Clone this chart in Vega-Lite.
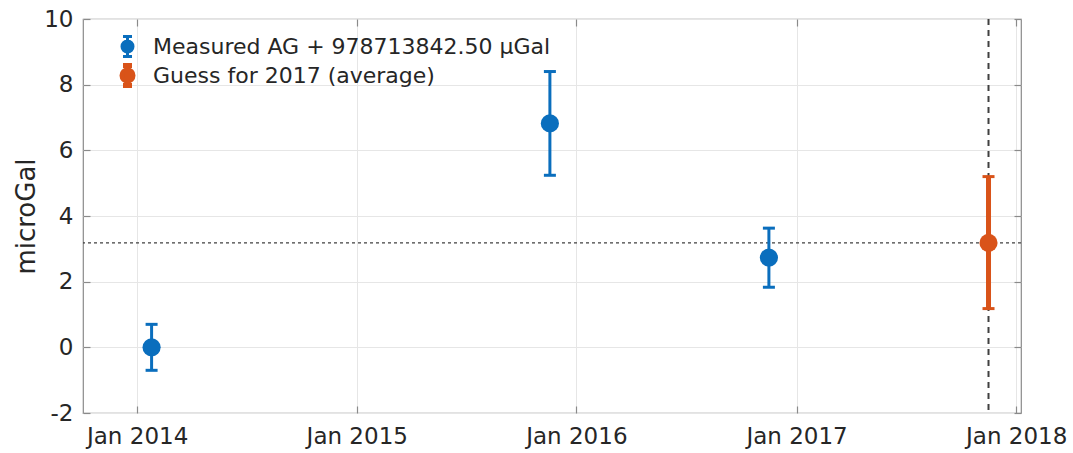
{
  "$schema": "https://vega.github.io/schema/vega-lite/v6.json",
  "width": 938,
  "height": 394,
  "autosize": {"type": "none"},
  "padding": {"left": 83, "top": 19, "right": 52, "bottom": 40},
  "background": "white",
  "datasets": {
    "pts": [
      {"date": "2014-01-25", "value": 0, "lo": -0.7, "hi": 0.7, "series": "Measured AG + 978713842.50 μGal"},
      {"date": "2015-11-18", "value": 6.82, "lo": 5.24, "hi": 8.4, "series": "Measured AG + 978713842.50 μGal"},
      {"date": "2016-11-16", "value": 2.73, "lo": 1.83, "hi": 3.63, "series": "Measured AG + 978713842.50 μGal"},
      {"date": "2017-11-16", "value": 3.18, "lo": 1.18, "hi": 5.2, "series": "Guess for 2017 (average)"}
    ],
    "vline": [{"d": "2017-11-16"}],
    "hline": [{"avg": 3.18}]
  },
  "resolve": {"axis": {"x": "independent", "y": "independent"}},
  "layer": [
    {
      "data": {"name": "hline"},
      "mark": {"type": "rule", "color": "#404040", "strokeWidth": 1.2, "strokeDash": [3, 3]},
      "encoding": {
        "y": {"field": "avg", "type": "quantitative", "axis": null}
      }
    },
    {
      "data": {"name": "vline"},
      "mark": {"type": "rule", "color": "#404040", "strokeWidth": 2, "strokeDash": [6, 5]},
      "encoding": {
        "x": {"field": "d", "type": "temporal", "axis": null,
          "scale": {"type": "utc", "domain": [{"year": 2013, "month": 10, "date": 3, "utc": true}, {"year": 2018, "month": 1, "date": 9, "utc": true}]}}
      }
    },
    {
      "data": {"name": "pts"},
      "mark": {"type": "rule", "opacity": 1},
      "encoding": {
        "x": {"field": "date", "type": "temporal",
          "scale": {"type": "utc", "domain": [{"year": 2013, "month": 10, "date": 3, "utc": true}, {"year": 2018, "month": 1, "date": 9, "utc": true}]},
          "axis": {"orient": "bottom", "title": null, "labelExpr": "utcFormat(datum.value, '%b %Y')",
            "values": [{"year": 2014, "month": 1, "date": 1, "utc": true}, {"year": 2015, "month": 1, "date": 1, "utc": true}, {"year": 2016, "month": 1, "date": 1, "utc": true}, {"year": 2017, "month": 1, "date": 1, "utc": true}, {"year": 2018, "month": 1, "date": 1, "utc": true}],
            "grid": true, "tickSize": -7, "labelPadding": 19, "labelFlush": false, "labelOverlap": false}},
        "y": {"field": "lo", "type": "quantitative",
          "scale": {"domain": [-2, 10], "nice": false, "zero": false},
          "axis": {"orient": "left", "title": "microGal", "values": [-2, 0, 2, 4, 6, 8, 10], "labelExpr": "datum.value < 0 ? '-' + abs(datum.value) : '' + datum.value", "grid": true, "tickSize": -7, "labelPadding": 17, "titlePadding": 4}},
        "y2": {"field": "hi"},
        "color": {"field": "series", "type": "nominal",
          "scale": {"domain": ["Measured AG + 978713842.50 μGal", "Guess for 2017 (average)"], "range": ["#0A6EBD", "#D95319"]}},
        "strokeWidth": {"field": "series", "type": "nominal", "legend": null,
          "scale": {"domain": ["Measured AG + 978713842.50 μGal", "Guess for 2017 (average)"], "range": [3, 5]}}
      }
    },
    {
      "data": {"name": "pts"},
      "mark": {"type": "tick", "orient": "horizontal", "size": 12, "thickness": 3, "opacity": 1},
      "encoding": {
        "x": {"field": "date", "type": "temporal", "axis": null},
        "y": {"field": "hi", "type": "quantitative", "axis": null},
        "color": {"field": "series", "type": "nominal"}
      }
    },
    {
      "data": {"name": "pts"},
      "mark": {"type": "tick", "orient": "horizontal", "size": 12, "thickness": 3, "opacity": 1},
      "encoding": {
        "x": {"field": "date", "type": "temporal", "axis": null},
        "y": {"field": "lo", "type": "quantitative", "axis": null},
        "color": {"field": "series", "type": "nominal"}
      }
    },
    {
      "data": {"name": "pts"},
      "mark": {"type": "point", "shape": "circle", "filled": true, "size": 330, "opacity": 1},
      "encoding": {
        "x": {"field": "date", "type": "temporal",
          "axis": {"orient": "top", "title": null, "labels": false, "grid": false, "tickSize": -7,
            "values": [{"year": 2014, "month": 1, "date": 1, "utc": true}, {"year": 2015, "month": 1, "date": 1, "utc": true}, {"year": 2016, "month": 1, "date": 1, "utc": true}, {"year": 2017, "month": 1, "date": 1, "utc": true}, {"year": 2018, "month": 1, "date": 1, "utc": true}]}},
        "y": {"field": "value", "type": "quantitative",
          "axis": {"orient": "right", "title": null, "labels": false, "grid": false, "tickSize": -7, "values": [-2, 0, 2, 4, 6, 8, 10]}},
        "color": {"field": "series", "type": "nominal",
          "legend": {"orient": "none", "legendX": 32, "legendY": 16, "title": null,
            "symbolType": "M0,-1L0,1M-0.45,-1L0.45,-1M-0.45,1L0.45,1M-0.55,0A0.55,0.55,0,1,0,0.55,0A0.55,0.55,0,1,0,-0.55,0Z",
            "symbolSize": 400, "symbolStrokeWidth": 3, "symbolOpacity": 1,
            "labelFontSize": 22, "labelFont": "DejaVu Sans", "labelColor": "#262626", "labelOffset": 13, "rowPadding": -10, "labelLimit": 600,
            "encode": {"symbols": {"update": {"stroke": {"scale": "color", "field": "value"}, "strokeWidth": {"value": 3}, "strokeCap": {"value": "butt"}}}}}}
      }
    }
  ],
  "config": {
    "view": {"stroke": "#8a8a8a", "strokeWidth": 1.2},
    "axis": {
      "domain": false,
      "tickColor": "#8a8a8a",
      "tickWidth": 1.2,
      "gridColor": "#e6e6e6",
      "gridWidth": 1,
      "labelFont": "DejaVu Sans",
      "labelFontSize": 23,
      "labelColor": "#262626",
      "titleFont": "DejaVu Sans",
      "titleFontSize": 26,
      "titleFontWeight": "normal",
      "titleColor": "#262626"
    }
  }
}
